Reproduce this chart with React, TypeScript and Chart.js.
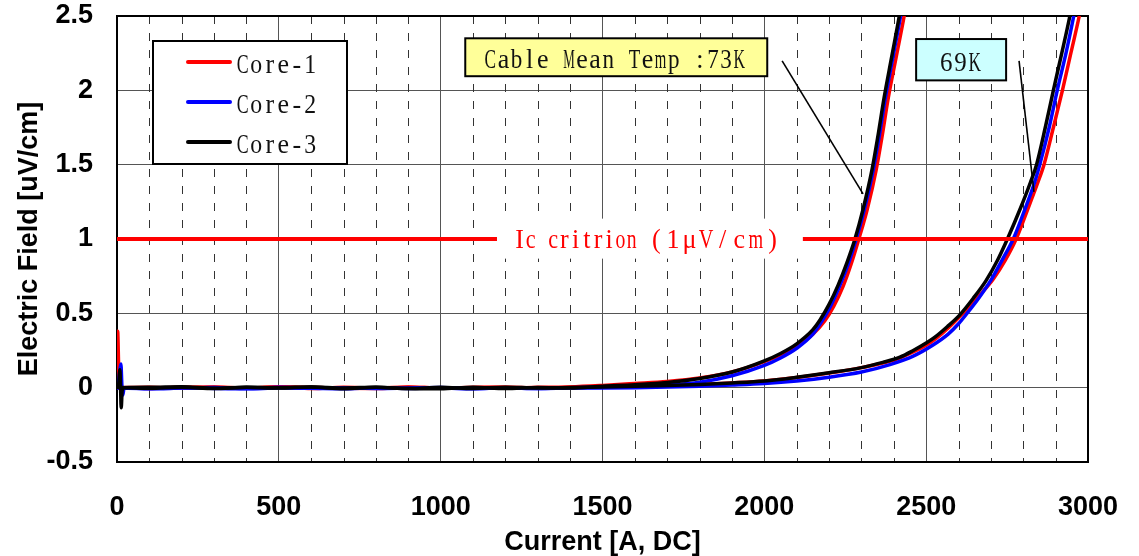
import React, { useEffect, useRef } from 'react';
import { Chart, registerables } from 'chart.js';

Chart.register(...registerables);

type Pt = [number, number];

// ---- axes ----
const X_MIN = 0;
const X_MAX = 3000;
const X_MAJOR = 500;
const X_MINOR = 100;
const Y_MIN = -0.5;
const Y_MAX = 2.5;
const Y_STEP = 0.5;
const X_TITLE = 'Current [A, DC]';
const Y_TITLE = 'Electric Field [uV/cm]';

// ---- legend / labels ----
const seriesNames = ['Core-1', 'Core-2', 'Core-3'];
const seriesColors = ['#ff0000', '#0000ff', '#000000'];
const IC_CRITERION = 1;
const icCurrents = [0, 3000];
const icLabel = 'Ic critrion (1μV/cm)';
const label73 = 'Cable Mean Temp :73K';
const label69 = '69K';

// annotation anchors in data units [current, field]
const box73: Pt[] = [[1076, 2.35], [2009, 2.095]];
const box69: Pt[] = [[2469, 2.345], [2747, 2.067]];
const leader73: Pt[] = [[2055, 2.198], [2305, 1.303]];
const leader69: Pt[] = [[2787, 2.198], [2833, 1.317]];
const icTextSpan: Pt[] = [[1174, 1.137], [2119, 0.868]];

// ---- measured series (current A, field uV/cm) ----
const core1_73K: Pt[] = [
  [0, 0], [2, 0.38], [5, 0.15], [8, 0.0], [12, -0.01], [20, 0.0], [100, -0.005], [200, 0.004],
  [300, 0.002], [400, -0.003], [500, 0.006], [600, 0.002], [700, -0.004], [800, -0.006], [900, 0.003],
  [1000, -0.002], [1100, 0.0], [1200, -0.004], [1300, 0.002], [1400, 0.005], [1500, 0.015],
  [1600, 0.028], [1700, 0.042], [1800, 0.065], [1900, 0.105], [2000, 0.175], [2050, 0.22],
  [2100, 0.28], [2150, 0.36], [2187, 0.45], [2215, 0.55], [2243, 0.68], [2268, 0.83], [2292, 1.0],
  [2318, 1.2], [2346, 1.47], [2363, 1.68], [2383, 1.95], [2407, 2.22], [2432, 2.5], [2455, 2.8],
];
const core2_73K: Pt[] = [
  [0, 0], [4, 0.03], [8, 0.1], [12, 0.16], [15, 0.02], [18, -0.05], [22, 0.0], [100, -0.008],
  [200, -0.003], [300, 0.001], [400, -0.006], [500, 0.002], [600, -0.004], [700, 0.0], [800, -0.005],
  [900, -0.002], [1000, 0.001], [1100, -0.006], [1200, -0.003], [1300, -0.005], [1400, 0.0],
  [1500, 0.003], [1600, 0.008], [1700, 0.018], [1800, 0.037], [1900, 0.08], [2000, 0.15], [2050, 0.2],
  [2100, 0.265], [2150, 0.36], [2177, 0.445], [2205, 0.55], [2232, 0.68], [2259, 0.83], [2284, 1.0],
  [2309, 1.2], [2337, 1.47], [2354, 1.68], [2374, 1.95], [2397, 2.22], [2421, 2.5], [2444, 2.8],
];
const core3_73K: Pt[] = [
  [0, 0], [5, 0.02], [9, 0.12], [11, 0.0], [13, -0.135], [16, -0.02], [22, 0.0], [100, 0.002],
  [200, 0.006], [300, -0.004], [400, 0.003], [500, 0.0], [600, 0.004], [700, -0.007], [800, 0.002],
  [900, -0.005], [1000, -0.008], [1100, 0.003], [1200, -0.006], [1300, 0.001], [1400, -0.002],
  [1500, 0.01], [1600, 0.02], [1700, 0.035], [1800, 0.062], [1900, 0.105], [2000, 0.18], [2050, 0.23],
  [2100, 0.295], [2150, 0.39], [2172, 0.455], [2200, 0.56], [2228, 0.69], [2255, 0.84], [2280, 1.0],
  [2305, 1.2], [2333, 1.47], [2350, 1.68], [2370, 1.95], [2393, 2.22], [2417, 2.5], [2440, 2.8],
];
const core1_69K: Pt[] = [
  [0, 0.0], [100, 0.003], [200, -0.004], [300, 0.005], [400, -0.002], [500, 0.004], [600, -0.006],
  [700, 0.003], [800, -0.003], [900, 0.005], [1000, -0.004], [1100, 0.002], [1200, 0.004],
  [1300, -0.003], [1400, 0.002], [1500, 0.006], [1600, 0.01], [1700, 0.015], [1800, 0.022],
  [1900, 0.032], [2000, 0.045], [2100, 0.068], [2200, 0.098], [2300, 0.135], [2400, 0.185],
  [2450, 0.23], [2500, 0.285], [2530, 0.33], [2570, 0.405], [2614, 0.5], [2660, 0.61], [2707, 0.73],
  [2745, 0.86], [2778, 1.0], [2812, 1.19], [2845, 1.38], [2864, 1.5], [2893, 1.75], [2921, 2.0],
  [2947, 2.25], [2973, 2.5], [2995, 2.75],
];
const core2_69K: Pt[] = [
  [0, -0.003], [100, -0.006], [200, 0.0], [300, -0.005], [400, -0.008], [500, -0.002], [600, -0.004],
  [700, -0.007], [800, 0.0], [900, -0.005], [1000, -0.003], [1100, -0.007], [1200, -0.002],
  [1300, -0.006], [1400, -0.003], [1500, -0.002], [1600, 0.0], [1700, 0.004], [1800, 0.01],
  [1900, 0.018], [2000, 0.028], [2100, 0.045], [2200, 0.07], [2300, 0.105], [2388, 0.155],
  [2460, 0.212], [2520, 0.285], [2568, 0.36], [2600, 0.43], [2630, 0.51], [2665, 0.61], [2702, 0.73],
  [2735, 0.86], [2769, 1.0], [2805, 1.2], [2835, 1.38], [2851, 1.5], [2880, 1.75], [2905, 2.0],
  [2932, 2.25], [2956, 2.5], [2978, 2.75],
];
const core3_69K: Pt[] = [
  [0, 0.002], [100, -0.004], [200, 0.003], [300, -0.006], [400, 0.002], [500, -0.003], [600, 0.005],
  [700, -0.002], [800, 0.003], [900, -0.006], [1000, 0.002], [1100, -0.005], [1200, 0.003],
  [1300, -0.002], [1400, 0.001], [1500, 0.005], [1600, 0.01], [1700, 0.015], [1800, 0.022],
  [1900, 0.032], [2000, 0.045], [2100, 0.07], [2200, 0.1], [2300, 0.135], [2366, 0.17], [2419, 0.205],
  [2460, 0.25], [2500, 0.3], [2527, 0.34], [2565, 0.41], [2604, 0.49], [2645, 0.6], [2685, 0.72],
  [2720, 0.855], [2751, 1.0], [2790, 1.2], [2822, 1.38], [2841, 1.5], [2868, 1.75], [2893, 2.0],
  [2919, 2.25], [2944, 2.5], [2965, 2.75],
];

const coreSeries: Pt[][][] = [
  [core1_73K, core1_69K],
  [core2_73K, core2_69K],
  [core3_73K, core3_69K],
];

const SANS = '"Liberation Sans", Arial, sans-serif';
const SERIF = '"Liberation Serif", "DejaVu Serif", serif';

function drawCells(
  ctx: CanvasRenderingContext2D, text: string, startX: number, baseline: number,
  cell: number, size: number, color: string,
) {
  ctx.save();
  ctx.font = `${size}px ${SERIF}`;
  ctx.fillStyle = color;
  ctx.textAlign = 'center';
  ctx.textBaseline = 'alphabetic';
  for (let i = 0; i < text.length; i++) {
    const ch = text[i];
    if (ch === ' ') continue;
    const w = ctx.measureText(ch).width;
    const maxW = cell * 0.88;
    const sx = w > maxW ? maxW / w : 1;
    ctx.save();
    ctx.translate(startX + cell * (i + 0.5), baseline);
    ctx.scale(sx, 1.08);
    ctx.fillText(ch, 0, 0);
    ctx.restore();
  }
  ctx.restore();
}

const overlayPlugin = {
  id: 'overlay',
  beforeDatasetsDraw(chart: any) {
    const { ctx, chartArea: ca, scales } = chart;
    const xs = scales.x;
    ctx.save();
    ctx.strokeStyle = '#333';
    ctx.lineWidth = 1;
    ctx.setLineDash([8, 9]);
    for (let v = X_MIN + X_MINOR; v < X_MAX; v += X_MINOR) {
      if (v % X_MAJOR === 0) continue;
      const px = Math.round(xs.getPixelForValue(v)) + 0.5;
      ctx.beginPath();
      ctx.moveTo(px, ca.top);
      ctx.lineTo(px, ca.bottom);
      ctx.stroke();
    }
    ctx.setLineDash([]);
    ctx.strokeStyle = '#000';
    ctx.lineWidth = 2;
    ctx.strokeRect(ca.left, ca.top, ca.right - ca.left, ca.bottom - ca.top);
    ctx.restore();
  },
  afterDatasetsDraw(chart: any) {
    const { ctx, chartArea: ca, scales } = chart;
    const X = (v: number) => scales.x.getPixelForValue(v);
    const Y = (v: number) => scales.y.getPixelForValue(v);
    ctx.save();

    // Ic criterion label on white band
    const ix1 = X(icTextSpan[0][0]);
    const ix2 = X(icTextSpan[1][0]);
    const iy1 = Y(icTextSpan[0][1]);
    const iy2 = Y(icTextSpan[1][1]);
    ctx.fillStyle = '#fff';
    ctx.fillRect(ix1, iy1, ix2 - ix1, iy2 - iy1);
    const split = icLabel.indexOf(' (');
    const icBase = Y(IC_CRITERION) + 9;
    drawCells(ctx, icLabel.slice(0, split), ix1 + 17, icBase, 11.2, 26, '#ff0000');
    drawCells(ctx, icLabel.slice(split + 1), ix1 + 151, icBase, 16.6, 26, '#ff0000');

    // leader lines
    ctx.strokeStyle = '#000';
    ctx.lineWidth = 1.6;
    for (const seg of [leader73, leader69]) {
      ctx.beginPath();
      ctx.moveTo(X(seg[0][0]), Y(seg[0][1]));
      ctx.lineTo(X(seg[1][0]), Y(seg[1][1]));
      ctx.stroke();
    }

    // annotation boxes
    const drawBox = (b: Pt[], fill: string) => {
      const x1 = X(b[0][0]), y1 = Y(b[0][1]), x2 = X(b[1][0]), y2 = Y(b[1][1]);
      ctx.fillStyle = fill;
      ctx.fillRect(x1, y1, x2 - x1, y2 - y1);
      ctx.strokeStyle = '#000';
      ctx.lineWidth = 2;
      ctx.strokeRect(x1, y1, x2 - x1, y2 - y1);
      return { x1, y1, x2, y2 };
    };
    const b1 = drawBox(box73, '#ffff99');
    drawCells(ctx, label73, b1.x1 + 18.5, b1.y1 + 29.5, 13.1, 26, '#111');
    const b2 = drawBox(box69, '#ccffff');
    drawCells(ctx, label69, b2.x1 + 23, b2.y1 + 32, 14.2, 26, '#111');

    // legend
    const lx = ca.left + 36, ly = ca.top + 25, lw = 194, lh = 123;
    ctx.fillStyle = '#fff';
    ctx.fillRect(lx, ly, lw, lh);
    ctx.strokeStyle = '#000';
    ctx.lineWidth = 2;
    ctx.strokeRect(lx, ly, lw, lh);
    seriesNames.forEach((name, i) => {
      const y = ly + 21 + i * 40;
      ctx.strokeStyle = seriesColors[i];
      ctx.lineWidth = 4;
      ctx.lineCap = 'round';
      ctx.beginPath();
      ctx.moveTo(lx + 35, y);
      ctx.lineTo(lx + 77, y);
      ctx.stroke();
      drawCells(ctx, name, lx + 83, y + 10.5, 13.5, 26, '#111');
    });
    ctx.restore();
  },
};

export default function App() {
  const ref = useRef<HTMLCanvasElement | null>(null);

  useEffect(() => {
    if (!ref.current) return;
    const toXY = (pts: Pt[]) => pts.map(([x, y]) => ({ x, y }));
    const datasets: any[] = [
      {
        label: 'Ic criterion',
        data: icCurrents.map((x) => ({ x, y: IC_CRITERION })),
        borderColor: '#ff0000',
        borderWidth: 4,
      },
    ];
    for (let c = seriesNames.length - 1; c >= 0; c--) {
      coreSeries[c].forEach((pts, k) => {
        datasets.push({
          label: `${seriesNames[c]} ${k === 0 ? '73K' : '69K'}`,
          data: toXY(pts),
          borderColor: seriesColors[c],
          borderWidth: 3.5,
          cubicInterpolationMode: 'monotone',
        });
      });
    }

    const tickFont = { family: SANS, size: 27, weight: 'bold' as const };
    const chart = new Chart(ref.current, {
      type: 'line',
      data: { datasets },
      plugins: [overlayPlugin],
      options: {
        responsive: false,
        animation: false,
        events: [],
        layout: { padding: { top: 16, right: 51, left: 0, bottom: 0 } },
        elements: { point: { radius: 0 }, line: { tension: 0 } },
        plugins: { legend: { display: false }, tooltip: { enabled: false } },
        scales: {
          x: {
            type: 'linear',
            min: X_MIN,
            max: X_MAX,
            afterFit: (s: any) => {
              s.height = 94;
              s.paddingLeft = 0;
              s.paddingRight = 0;
            },
            ticks: {
              stepSize: X_MAJOR, color: '#000', font: tickFont, padding: 29, maxRotation: 0,
              callback: (v: any) => String(v),
            },
            grid: { color: '#555', lineWidth: 1, drawTicks: false },
            border: { display: false },
            title: {
              display: true, text: X_TITLE, color: '#000',
              font: { family: SANS, size: 27, weight: 'bold' }, padding: { top: 0, bottom: -3 },
            },
          },
          y: {
            type: 'linear',
            min: Y_MIN,
            max: Y_MAX,
            afterFit: (s: any) => {
              s.width = 117;
              s.paddingTop = 0;
              s.paddingBottom = 0;
            },
            ticks: {
              stepSize: Y_STEP, color: '#000', font: tickFont, padding: 24,
              callback: (v: any) => String(v),
            },
            grid: { color: '#555', lineWidth: 1, drawTicks: false },
            border: { display: false },
            title: {
              display: true, text: Y_TITLE, color: '#000',
              font: { family: SANS, size: 27, weight: 'bold' }, padding: { top: 13, bottom: 0 },
            },
          },
        },
      },
    });
    return () => chart.destroy();
  }, []);

  return (
    <div style={{ position: 'fixed', left: 0, top: 0, width: 1139, height: 556, background: '#fff' }}>
      <canvas ref={ref} width={1139} height={556} style={{ display: 'block' }} />
    </div>
  );
}
